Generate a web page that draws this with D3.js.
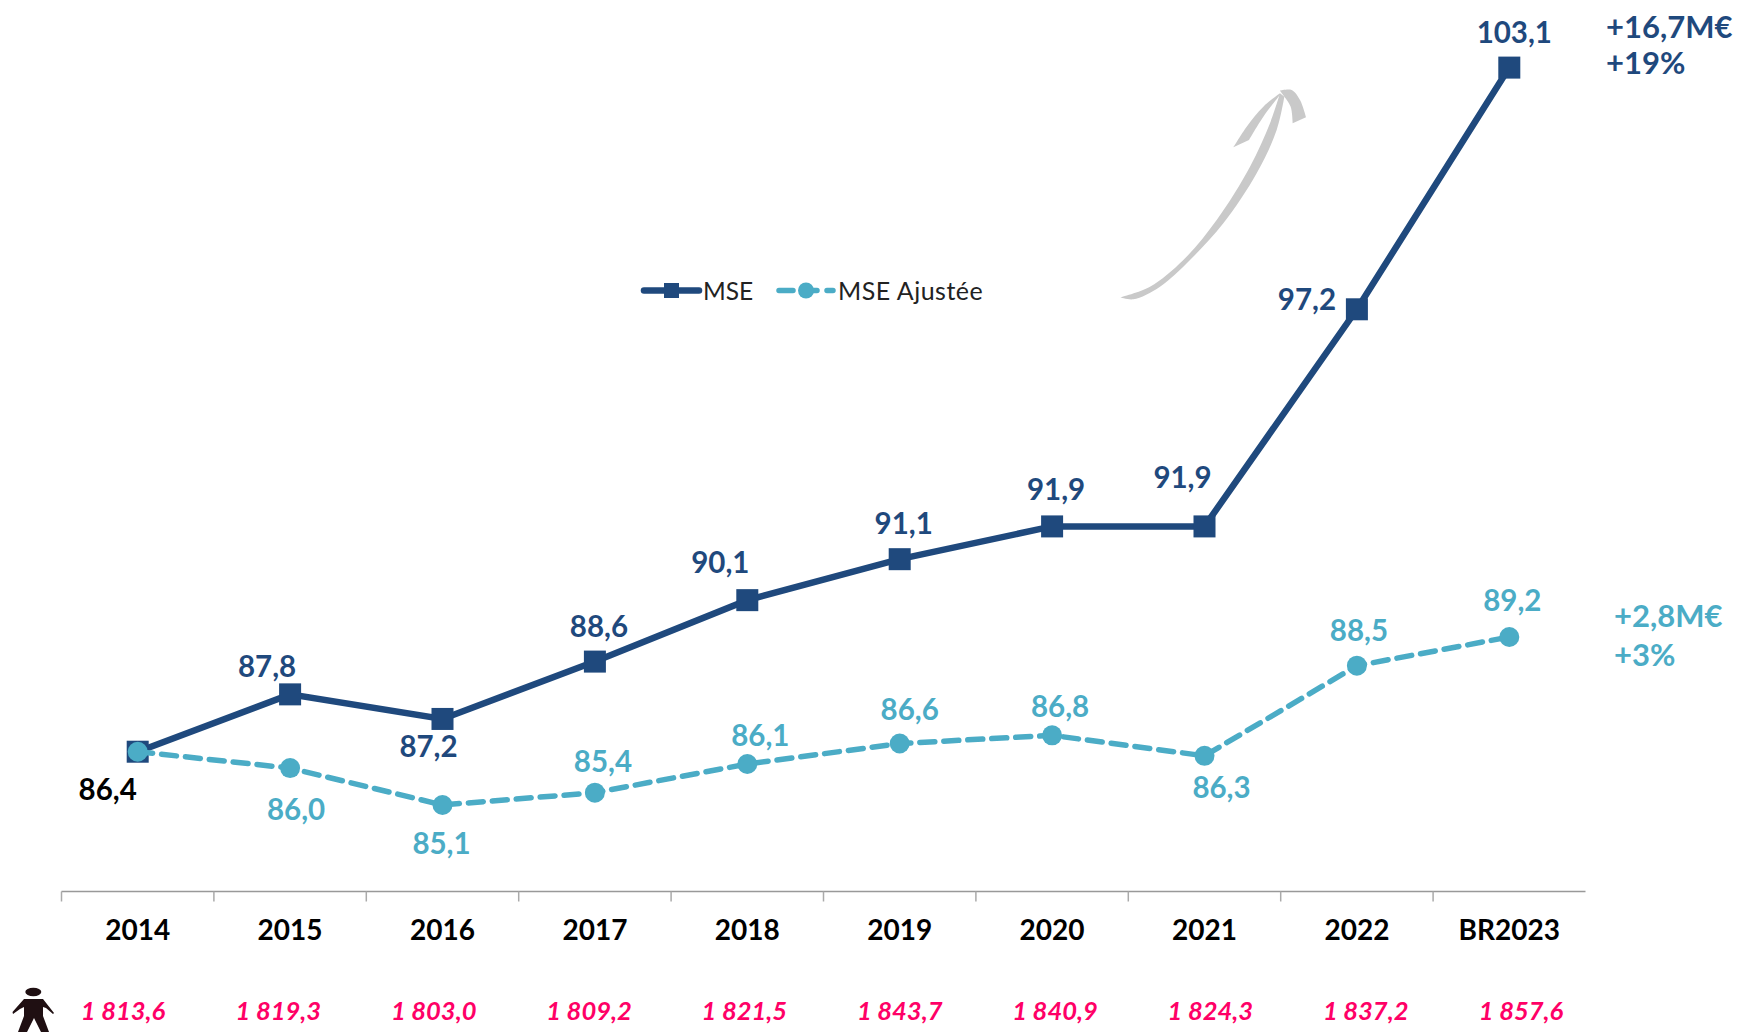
<!DOCTYPE html>
<html><head><meta charset="utf-8">
<script src="https://cdn.jsdelivr.net/npm/d3@7"></script>
<style>html,body{margin:0;padding:0;background:#fff}svg{display:block}text{font-family:Lato,sans-serif}</style>
</head><body><svg id="c" width="1738" height="1032"></svg>
<script>
const categories=["2014","2015","2016","2017","2018","2019","2020","2021","2022","BR2023"];
const mse=[86.4,87.8,87.2,88.6,90.1,91.1,91.9,91.9,97.2,103.1];
const mseAjustee=[86.4,86.0,85.1,85.4,86.1,86.6,86.8,86.3,88.5,89.2];
const effectifs=["1 813,6","1 819,3","1 803,0","1 809,2","1 821,5","1 843,7","1 840,9","1 824,3","1 837,2","1 857,6"];
const mseDx=[-30,-23,-14,4,-27,4,4,-22,-50,5], mseDy=[37,-29,27,-36,-39,-37,-38,-50,-11,-36];
const adjDx=[0,6,-1,8,13,10,8,17,2,3], adjDy=[0,40,38,-32,-30,-35,-30,31,-36,-38];
const NAVY="#1f497d",TEAL="#4bacc6",PINK="#ff0066",fr=d3.format(".1f");
const lab=v=>fr(v).replace(".",",");
const svg=d3.select("#c");
const x=d3.scaleBand().domain(categories).range([61.5,1585.5]);
const y=d3.scaleLinear().domain([83,103.1]).range([891,67.6]);
const cx=c=>x(c)+x.bandwidth()/2;
const popX=d3.scalePoint().domain(categories).range([123,1521]);

// axis
const ax=svg.append("g").attr("transform","translate(0,891.5)");
ax.append("line").attr("x1",x.range()[0]).attr("x2",x.range()[1]).attr("stroke","#999").attr("stroke-width",1.5);
ax.selectAll("line.t").data(categories).join("line").attr("class","t")
 .attr("x1",c=>x(c)).attr("x2",c=>x(c)).attr("y1",0).attr("y2",10).attr("stroke","#aaa").attr("stroke-width",1.5);
svg.selectAll("text.year").data(categories).join("text").attr("class","year")
 .attr("x",cx).attr("y",940).attr("text-anchor","middle").attr("font-size",28).attr("font-weight",700).attr("fill","#000").text(c=>c);
svg.selectAll("text.pop").data(effectifs).join("text").attr("class","pop")
 .attr("x",(d,i)=>popX(categories[i])).attr("y",1020).attr("text-anchor","middle").attr("font-size",25.5)
 .attr("font-weight",700).attr("font-style","italic").attr("fill",PINK).text(d=>d);

// swoosh annotation (decorative)
const zoomLine=d3.line().x(p=>1050+p[0]/3).y(p=>60+p[1]/3).curve(d3.curveLinearClosed);
const smooth=d3.line().x(p=>1050+p[0]/3).y(p=>60+p[1]/3).curve(d3.curveCatmullRom);
const ribbonTop=[[210,712],[300,680],[400,600],[500,480],[600,320],[660,190],[690,100]];
const ribbonBot=[[703,110],[680,210],[620,340],[520,490],[420,600],[330,680],[250,718],[210,712]];
const barbR=[[690,92],[725,90],[750,120],[768,172]];
const barbR2=[[728,190],[722,140],[703,110]];
const barbL=[[690,100],[640,140],[590,200],[550,262]];
const barbL2=[[597,240],[640,170],[690,105]];
const join2=(a,b)=>smooth(a)+"L"+smooth(b).slice(1)+"Z";
const sw=svg.append("g").attr("fill","#c9c9c9");
sw.append("path").attr("d",join2(ribbonTop,ribbonBot));
sw.append("path").attr("d",join2(barbR,barbR2));
sw.append("path").attr("d",join2(barbL,barbL2));

// lines
const lineGen=d3.line().x((d,i)=>cx(categories[i])).y(d=>y(d));
svg.append("path").attr("d",lineGen(mse)).attr("fill","none").attr("stroke",NAVY).attr("stroke-width",6.5);
svg.selectAll("rect.m").data(mse).join("rect").attr("class","m")
 .attr("x",(d,i)=>cx(categories[i])-11).attr("y",d=>y(d)-11).attr("width",22).attr("height",22).attr("fill",NAVY);
svg.append("path").attr("d",lineGen(mseAjustee)).attr("fill","none").attr("stroke",TEAL).attr("stroke-width",5.5)
 .attr("stroke-dasharray","15 9").attr("stroke-linecap","round");
svg.selectAll("circle.a").data(mseAjustee).join("circle").attr("class","a")
 .attr("cx",(d,i)=>cx(categories[i])).attr("cy",d=>y(d)).attr("r",10).attr("fill",TEAL);

// value labels
const lblStyle=s=>s.attr("text-anchor","middle").attr("dominant-baseline","central").attr("font-size",29.5).attr("font-weight",700);
svg.selectAll("text.ml").data(mse).join("text").attr("class","ml").call(lblStyle)
 .attr("x",(d,i)=>cx(categories[i])+mseDx[i]).attr("y",(d,i)=>y(d)+mseDy[i])
 .attr("fill",(d,i)=>i===0?"#000":NAVY).text(lab);
svg.selectAll("text.al").data(mseAjustee.slice(1)).join("text").attr("class","al").call(lblStyle)
 .attr("x",(d,i)=>cx(categories[i+1])+adjDx[i+1]).attr("y",(d,i)=>y(d)+adjDy[i+1])
 .attr("fill",TEAL).text(lab);

// deltas
const deltas=[["+16,7M€",1606,38,NAVY],["+19%",1606,74,NAVY],["+2,8M€",1614,627,TEAL],["+3%",1614,666,TEAL]];
svg.selectAll("text.d").data(deltas).join("text").attr("class","d")
 .attr("x",d=>d[1]).attr("y",d=>d[2]).attr("fill",d=>d[3]).attr("font-size",31).attr("font-weight",700).text(d=>d[0]);

// legend
const lg=svg.append("g").attr("transform","translate(0,290.5)");
lg.append("line").attr("x1",644).attr("x2",699).attr("stroke",NAVY).attr("stroke-width",6.5).attr("stroke-linecap","round");
lg.append("rect").attr("x",664).attr("y",-7.5).attr("width",15).attr("height",15).attr("fill",NAVY);
lg.append("text").attr("x",703).attr("y",9).attr("font-size",24.5).attr("font-weight",400).attr("fill","#222").text("MSE");
lg.append("line").attr("x1",779).attr("x2",833).attr("stroke",TEAL).attr("stroke-width",5.5).attr("stroke-linecap","round").attr("stroke-dasharray","14 10");
lg.append("circle").attr("cx",806).attr("cy",0).attr("r",8).attr("fill",TEAL);
lg.append("text").attr("x",838).attr("y",9).attr("font-size",25).attr("letter-spacing",0.5).attr("font-weight",400).attr("fill","#222").text("MSE Ajustée");

// person icon
const ic=svg.append("g").attr("fill","#1f0f12");
ic.append("ellipse").attr("cx",33.3).attr("cy",992).attr("rx",8).attr("ry",4.2);
ic.append("path").attr("d","M24 999 H43 L54 1013 L53 1014 L46 1008 L43 1007 V1016 L49 1032 H41 L34 1018 L27 1032 H18 L24 1016 V1007 L20 1009 L13 1014 L12.5 1012 Z");
</script></body></html>
